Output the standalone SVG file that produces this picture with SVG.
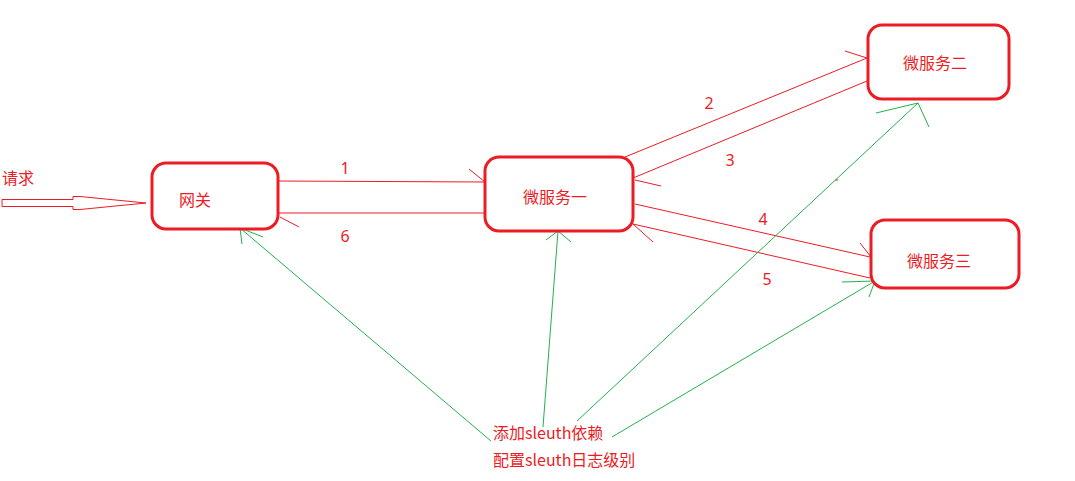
<svg xmlns="http://www.w3.org/2000/svg" width="1075" height="481" viewBox="0 0 1075 481">
<style>
.box{fill:#fff;stroke:#ed1c24;stroke-width:3}
.t{font-family:"Noto Sans CJK SC","Noto Sans",sans-serif;font-size:16px;fill:#ed1c24}
.n{font-family:"Noto Sans","Noto Sans CJK SC",sans-serif;font-size:16px;fill:#ed1c24;text-anchor:middle}
.r{stroke:#ed1c24;stroke-width:1;fill:none}
.g{stroke:#22b14c;stroke-width:1;fill:none}
</style>
<rect width="1075" height="481" fill="#fff"/>
<g id="request">
<text class="t" x="2" y="184">请求</text>
<polygon class="r" stroke-width="1.3" fill="#fff" points="2,199.5 73,199.5 73,196.5 80,196.5 146,203 80,209.5 73,209.5 73,206.5 2,206.5"/>
</g>
<g id="connectors">
<!-- red flow -->
<line class="r" x1="278" y1="181" x2="485" y2="182"/>
<line class="r" x1="469" y1="169" x2="485" y2="182"/>
<line class="r" x1="485" y1="213" x2="278" y2="213"/>
<line class="r" x1="280" y1="217" x2="299" y2="227"/>
<line class="r" x1="625" y1="157" x2="867" y2="58"/>
<line class="r" x1="625" y1="157" x2="621" y2="162"/>
<line class="r" x1="845" y1="51" x2="867" y2="58"/>
<line class="r" x1="867" y1="81" x2="633" y2="178"/>
<line class="r" x1="635" y1="180" x2="661" y2="186"/>
<line class="r" x1="635" y1="204" x2="870" y2="257"/>
<line class="r" x1="860" y1="243" x2="871" y2="257"/>
<line class="r" x1="870" y1="278" x2="633" y2="224"/>
<line class="r" x1="633" y1="224" x2="653" y2="242"/>
<line class="r" x1="835" y1="180" x2="838" y2="180"/>
<!-- green -->
<line class="g" x1="491" y1="441" x2="240" y2="228"/>
<line class="g" x1="240" y1="228" x2="242" y2="244"/>
<line class="g" x1="240" y1="228" x2="263" y2="237"/>
<line class="g" x1="543" y1="427" x2="558" y2="231"/>
<line class="g" x1="558" y1="231" x2="546" y2="240"/>
<line class="g" x1="558" y1="231" x2="571" y2="242"/>
<line class="g" x1="577" y1="421" x2="918" y2="103"/>
<line class="g" x1="918" y1="103" x2="876" y2="113"/>
<line class="g" x1="918" y1="103" x2="929" y2="127"/>
<line class="g" x1="612" y1="437" x2="875" y2="281"/>
<line class="g" x1="875" y1="281" x2="842" y2="282"/>
<line class="g" x1="875" y1="281" x2="869" y2="297"/>
</g>
<g id="labels">
<text class="n" x="345" y="174">1</text>
<text class="n" x="709" y="109">2</text>
<text class="n" x="730" y="166">3</text>
<text class="n" x="763" y="225">4</text>
<text class="n" x="767" y="285">5</text>
<text class="n" x="345" y="242">6</text>
</g>
<g id="gateway">
<rect class="box" x="152" y="163" width="126" height="66" rx="14"/>
<text class="t" x="179" y="206">网关</text>
</g>
<g id="service1">
<rect class="box" x="485" y="157" width="148" height="74" rx="14"/>
<text class="t" x="523" y="203">微服务一</text>
</g>
<g id="service2">
<rect class="box" x="868" y="25" width="141" height="74" rx="14"/>
<text class="t" x="903" y="69">微服务二</text>
</g>
<g id="service3">
<rect class="box" x="871" y="220" width="148" height="68" rx="14"/>
<text class="t" x="907" y="267">微服务三</text>
</g>
<g id="note">
<text class="t" x="493" y="439">添加sleuth依赖</text>
<text class="t" x="493" y="466">配置sleuth日志级别</text>
</g>
</svg>
